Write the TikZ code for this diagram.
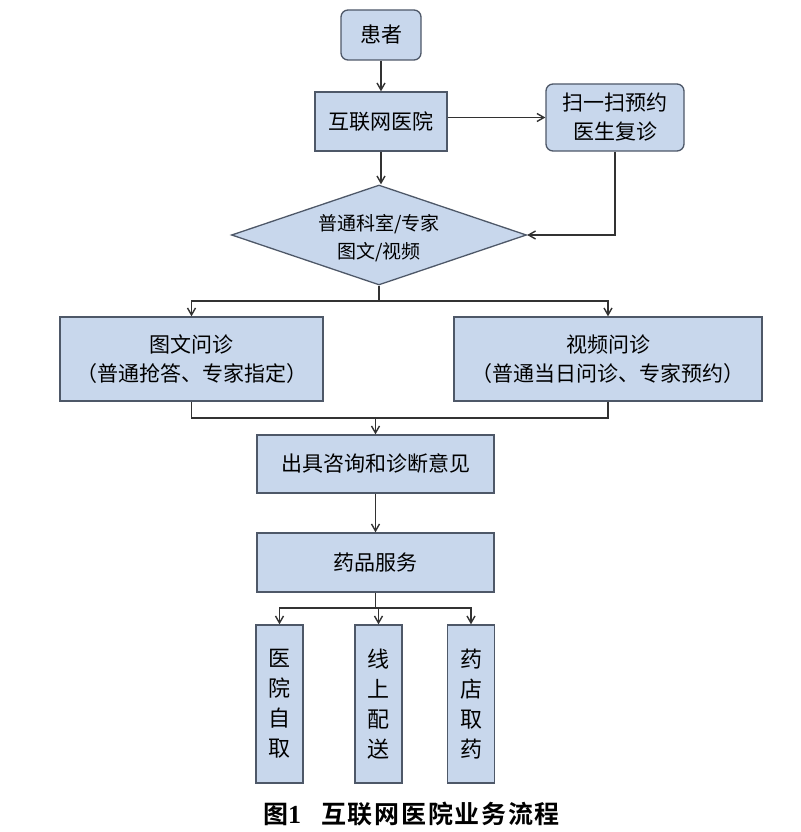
\documentclass[tikz,border=0pt]{standalone}
\usepackage{fontspec}
\setmainfont{Noto Sans CJK SC}
\newfontfamily\capfont{Noto Sans CJK SC Bold}
\newfontfamily\numfont{Liberation Serif}
\usetikzlibrary{shapes.geometric,arrows.meta}
\definecolor{boxfill}{RGB}{200,215,236}
\definecolor{boxline}{RGB}{78,88,104}
\definecolor{conn}{RGB}{50,50,50}
\tikzset{
  box/.style={draw=boxline, fill=boxfill, line width=1.3pt, inner sep=0pt, align=center,
    font=\fontsize{21}{29}\selectfont},
  rbox/.style={box, rounded corners=7pt},
  dia/.style={box, shape=diamond, font=\fontsize{19}{28}\selectfont},
  vbox/.style={box, font=\fontsize{22}{30}\selectfont},
  conn/.style={draw=conn, line width=1.4pt},
  arr/.style={conn, -{Straight Barb[length=7pt,width=8pt]}},
}
\begin{document}
\begin{tikzpicture}[x=1pt,y=-1pt]
\useasboundingbox (0,0) rectangle (800,832);
\node[rbox, minimum width=80pt, minimum height=50pt] (patient) at (381,35) {患者};
\node[box, minimum width=132pt, minimum height=59pt] (hosp) at (381,121.5) {互联网医院};
\node[rbox, minimum width=138pt, minimum height=67pt] (scan) at (615,117.5) {扫一扫预约\\医生复诊};
\node[dia, minimum width=295pt, minimum height=100pt] (choice) at (379,235)
  {\makebox[0pt]{\smash{\raisebox{-8pt}{\begin{tabular}{@{}c@{}}普通科室/专家\\图文/视频\end{tabular}}}}};
\node[box, minimum width=263pt, minimum height=84pt] (tuwen) at (191.5,359) {图文问诊\\（普通抢答、专家指定）};
\node[box, minimum width=308pt, minimum height=84pt] (video) at (608,359) {视频问诊\\（普通当日问诊、专家预约）};
\node[box, minimum width=237pt, minimum height=58pt] (opinion) at (375.5,464) {出具咨询和诊断意见};
\node[box, minimum width=237pt, minimum height=59pt] (drug) at (375.5,562.5) {药品服务};
\node[vbox, minimum width=47pt, minimum height=158pt] (self) at (279.5,704) {医\\院\\自\\取};
\node[vbox, minimum width=47pt, minimum height=158pt] (deliver) at (378.5,704) {线\\上\\配\\送};
\node[vbox, minimum width=47pt, minimum height=158pt] (store) at (471,704) {药\\店\\取\\药};
\node[anchor=center, inner sep=0pt] (caption) at (411.5,814)
  {{\fontsize{25}{25}\capfont 图}{\fontsize{26}{26}\numfont\bfseries 1}\hspace{20pt}{\fontsize{25}{25}\capfont 互\hspace{1.7pt}联\hspace{1.7pt}网\hspace{1.7pt}医\hspace{1.7pt}院\hspace{1.7pt}业\hspace{1.7pt}务\hspace{1.7pt}流\hspace{1.7pt}程}};

\coordinate (split1) at (choice.south |- 0,301);
\coordinate (join1) at (opinion.north |- 0,418);
\coordinate (split2) at (drug.south |- 0,608);

\draw[arr] (patient) -- (hosp);
\draw[arr] (hosp.east |- scan.west) -- (scan.west);
\draw[arr] (hosp.south) -- (hosp.south |- choice.north);
\draw[arr] (scan.south) |- (choice.east);
\draw[conn] (choice.south) -- (split1);
\draw[arr] (split1) -| (tuwen.north);
\draw[arr] (split1) -| (video.north);
\draw[conn] (tuwen.south) |- (join1);
\draw[conn] (video.south) |- (join1);
\draw[arr] (join1) -- (opinion.north);
\draw[arr] (opinion) -- (drug);
\draw[conn] (drug.south) -- (split2);
\draw[arr] (split2) -| (self.north);
\draw[arr] (split2) -| (deliver.north);
\draw[arr] (split2) -| (store.north);
\end{tikzpicture}
\end{document}
